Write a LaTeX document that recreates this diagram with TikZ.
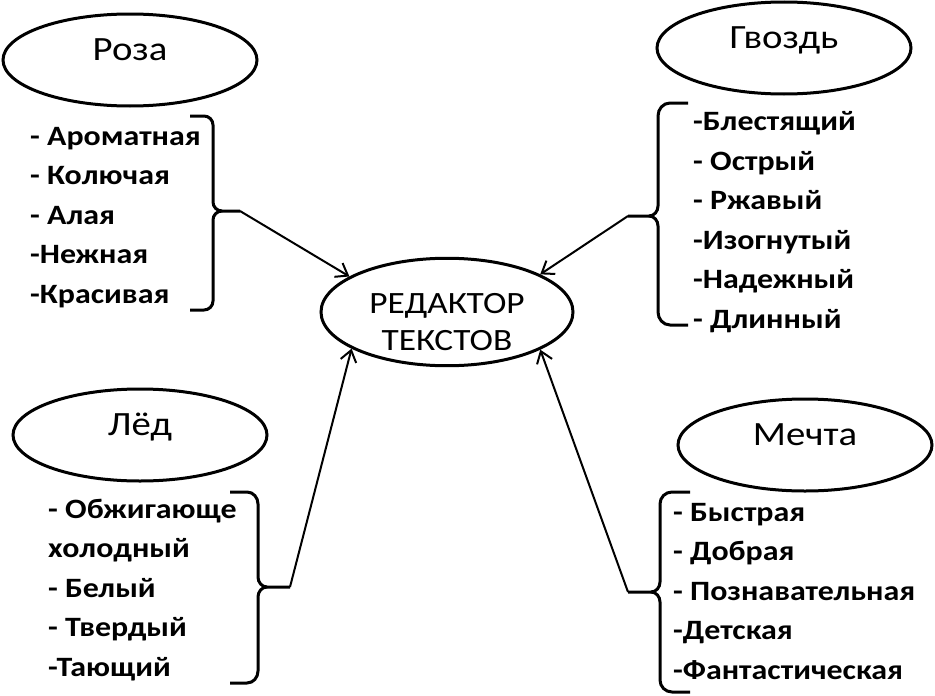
\documentclass[tikz,border=0pt]{standalone}
\usepackage{fontspec}
\setmainfont{Carlito}[FakeStretch=1.14]
\usetikzlibrary{shapes.geometric, arrows.meta, positioning}

\tikzset{
  word/.style={ellipse, draw, line width=3pt, minimum width=254pt, minimum height=92pt,
    inner sep=0pt, font=\fontsize{34}{40}\selectfont, text height=24pt, text depth=24pt},
  editor/.style={ellipse, draw, line width=3pt, minimum width=252pt, minimum height=94pt,
    inner sep=0pt, align=center, font=\fontsize{31}{37}\selectfont, text height=76pt, text depth=0pt},
  props/.style={align=left, inner sep=0pt, anchor=base west, font=\bfseries\fontsize{28}{39.5}\selectfont},
  brace/.style={line width=3pt},
  link/.style={line width=2pt, -{Straight Barb[length=11pt,width=16pt]}}
}

\begin{document}
\begin{tikzpicture}[x=1pt,y=-1pt]
	\useasboundingbox (0,0) rectangle (935,696);
	
	\node[editor] (editor) at (447,312) {РЕДАКТОР\\ТЕКСТОВ};
	
	\node[word] (roza) at (130,60) {Роза};
	\node[word] (gvozd) at (784,48) {Гвоздь};
	\node[word] (led) at (140,435) {Лёд};
	\node[word] (mechta) at (805,445) {Мечта};
	
	%%%%%%%%%%%%%%%%%%%%%%%%%%%%%%
	
	% anchored at the baseline of the last line
	\node[props] (rozalist) at (30,303) {- Ароматная\\- Колючая\\- Алая\\-Нежная\\-Красивая};
	\node[props] (gvozdlist) at (693,328) {-Блестящий\\- Острый\\- Ржавый\\-Изогнутый\\-Надежный\\- Длинный};
	\node[props] (ledlist) at (48,676) {- Обжигающе\\холодный\\- Белый\\- Твердый\\-Тающий};
	\node[props] (mechtalist) at (673,679) {- Быстрая\\- Добрая\\- Познавательная\\-Детская\\-Фантастическая};
	
	%%%%%%%%%%%%%%%%%%%%%%%%%%%%%%
	
	\coordinate (rozatip) at (240,211);
	\coordinate (gvozdtip) at (628,216);
	\coordinate (ledtip) at (290,587);
	\coordinate (mechtatip) at (628,592);
	
	\draw[brace] (190,116) -- (204,116) to[out=0,in=90] (213,125) -- (213,202)
		to[out=-90,in=180] (222,211) -- (rozatip);
	\draw[brace] (222,211) to[out=180,in=90] (213,220) -- (213,301)
		to[out=-90,in=0] (204,310) -- (190,310);
	
	\draw[brace] (688,103) -- (670,103) to[out=180,in=90] (658,116) -- (658,206)
		to[out=-90,in=0] (649,216) -- (gvozdtip);
	\draw[brace] (649,216) to[out=0,in=90] (658,226) -- (658,312)
		to[out=-90,in=180] (670,325) -- (688,325);
	
	\draw[brace] (230,492) -- (247,492) to[out=0,in=90] (258,504) -- (258,577)
		to[out=-90,in=180] (267,587) -- (ledtip);
	\draw[brace] (267,587) to[out=180,in=90] (258,597) -- (258,671)
		to[out=-90,in=0] (247,683) -- (230,683);
	
	\draw[brace] (690,492) -- (672,492) to[out=180,in=90] (660,504) -- (660,582)
		to[out=-90,in=0] (651,592) -- (mechtatip);
	\draw[brace] (651,592) to[out=0,in=90] (660,602) -- (660,680)
		to[out=-90,in=180] (672,692) -- (690,692);
	
	%%%%%%%%%%%%%%%%%%%%%%%%%%%%%%
	
	\draw[link] (rozatip) -- (editor.160);
	\draw[link] (gvozdtip) -- (editor.22);
	\draw[link] (ledtip) -- (editor.201);
	\draw[link] (mechtatip) -- (editor.338);
	
\end{tikzpicture}
\end{document}
